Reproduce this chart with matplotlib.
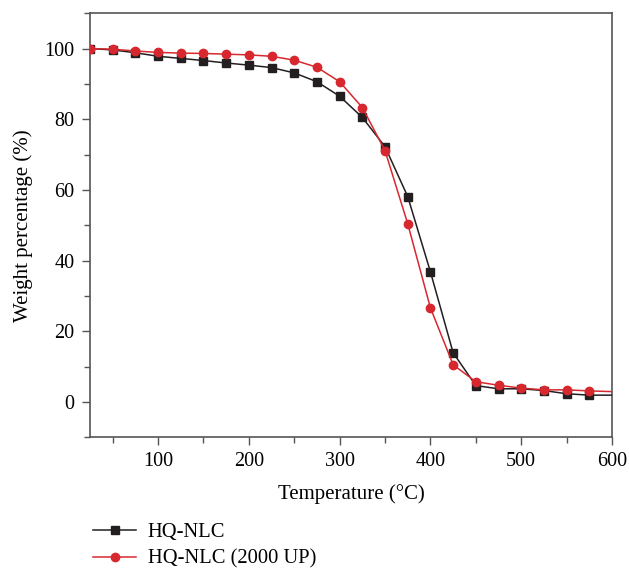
import matplotlib
matplotlib.use("Agg")
import matplotlib.pyplot as plt
from matplotlib.ticker import MultipleLocator

temperature = [25, 50, 75, 100, 125, 150, 175, 200, 225, 250, 275, 300,
               325, 350, 375, 400, 425, 450, 475, 500, 525, 550, 575, 600]
hq_nlc = [100.0, 99.6, 98.8, 97.8, 97.2, 96.6, 95.9, 95.3, 94.6, 93.1, 90.6, 86.5,
          80.5, 72.2, 58.1, 36.8, 13.9, 4.6, 3.7, 3.7, 3.2, 2.3, 1.9, 1.9]
hq_nlc_up = [100.0, 99.8, 99.3, 98.9, 98.7, 98.6, 98.4, 98.2, 97.8, 96.7, 94.7, 90.6,
             83.3, 71.1, 50.4, 26.6, 10.5, 5.7, 4.7, 3.9, 3.4, 3.4, 3.1, 2.9]
labels = ["HQ-NLC", "HQ-NLC (2000 UP)"]

plt.rcParams["font.family"] = ["Liberation Serif", "DejaVu Serif"]

fig = plt.figure(figsize=(6.29, 5.73), dpi=100)
ax = fig.add_axes([0.143, 0.237, 0.830, 0.740])

marks = list(range(len(temperature) - 1))
ax.plot(temperature, hq_nlc, color="#231f20", lw=1.1, marker="s", ms=5.2,
        markevery=marks, label=labels[0], zorder=3)
ax.plot(temperature, hq_nlc_up, color="#d7282f", lw=1.1, marker="o", ms=6,
        markevery=marks, label=labels[1], zorder=4)

ax.set_xlim(25, 600)
ax.set_ylim(-10, 110)
ax.xaxis.set_minor_locator(MultipleLocator(50))
ax.yaxis.set_minor_locator(MultipleLocator(10))
ax.set_xticks([100, 200, 300, 400, 500, 600])
ax.set_yticks([0, 20, 40, 60, 80, 100])
ax.tick_params(which="both", direction="out", top=False, right=False,
               labelsize=14.5, color="#555555", width=1.0)
ax.tick_params(which="major", length=6, pad=5)
ax.tick_params(which="minor", length=4)
for s in ax.spines.values():
    s.set_color("#555555")
    s.set_linewidth(1.2)

ax.set_xlabel("Temperature (°C)", fontsize=15, labelpad=9)
ax.set_ylabel("Weight percentage (%)", fontsize=15, labelpad=8)

fig.legend(loc="upper left", bbox_to_anchor=(0.135, 0.102), frameon=False,
           fontsize=14.8, handlelength=2.1, handletextpad=0.55, labelspacing=0.35,
           borderaxespad=0)

fig.savefig("out.png", dpi=100)
